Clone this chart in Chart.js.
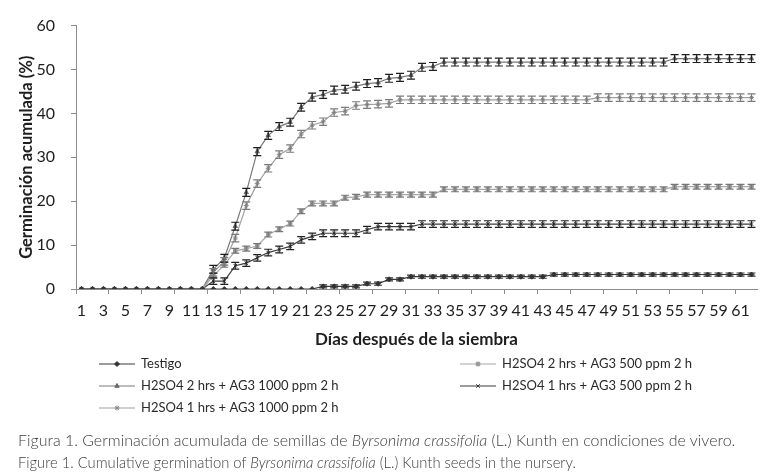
<!DOCTYPE html>
<html>
<head>
<meta charset="utf-8">
<script src="https://cdn.jsdelivr.net/npm/chart.js@4.4.1/dist/chart.umd.min.js"></script>
<style>
  body { margin: 0; background: #fff; }
  #wrap { position: relative; width: 769px; height: 476px; }
  #chart { position: absolute; left: 0; top: 0; }
  .cap { position: absolute; left: 18px; font-family: Lato, sans-serif; font-weight: 300;
         color: #3c3c3c; font-size: 15.8px; white-space: nowrap; transform-origin: left center; }
</style>
</head>
<body>
<div id="wrap">
  <canvas id="chart" width="769" height="476"></canvas>
  <div class="cap" style="top:430px;transform:scaleX(1.01)">Figura 1. Germinación acumulada de semillas de <i>Byrsonima crassifolia</i> (L.) Kunth en condiciones de vivero.</div>
  <div class="cap" style="top:452px;transform:scaleX(0.935)">Figure 1. Cumulative germination of <i>Byrsonima crassifolia</i> (L.) Kunth seeds in the nursery.</div>
</div>
<script>
// days after sowing
const days = [1,2,3,4,5,6,7,8,9,10,11,12,13,14,15,16,17,18,19,20,21,22,23,24,25,26,27,28,29,30,31,
  32,33,34,35,36,37,38,39,40,41,42,43,44,45,46,47,48,49,50,51,52,53,54,55,56,57,58,59,60,61,62];

const names = ['Testigo', 'H2SO4 2 hrs + AG3 500 ppm 2 h', 'H2SO4 2 hrs + AG3 1000 ppm 2 h',
  'H2SO4 1 hrs + AG3 500 ppm 2 h', 'H2SO4 1 hrs + AG3 1000 ppm 2 h'];

// cumulative germination (%)
const testigo = [0,0,0,0,0,0,0,0,0,0,0,0,0,0,0,0,0,0,0,0,0,0,
  0.6,0.6,0.6,0.6,1.2,1.2,2.2,2.2,
  2.8,2.8,2.8,2.8,2.8,2.8,2.8,2.8,2.8,2.8,2.8,2.8,2.8,
  3.3,3.3,3.3,3.3,3.3,3.3,3.3,3.3,3.3,3.3,3.3,3.3,3.3,3.3,3.3,3.3,3.3,3.3,3.3];
const h2s500 = [0,0,0,0,0,0,0,0,0,0,0,0,
  3,5.5,8.7,9.2,9.8,12.4,13.6,14.9,17.7,19.5,19.5,19.5,20.8,21,
  21.5,21.5,21.5,21.5,21.5,21.5,21.5,
  22.7,22.7,22.7,22.7,22.7,22.7,22.7,22.7,22.7,22.7,22.7,22.7,22.7,22.7,22.7,22.7,22.7,22.7,22.7,22.7,22.7,
  23.3,23.3,23.3,23.3,23.3,23.3,23.3,23.3];
const h2s1000 = [0,0,0,0,0,0,0,0,0,0,0,0,
  4.5,7,14.3,22,31.3,35,37,38,41.4,43.7,44.3,45.3,45.5,46.2,46.8,47,48,48.2,48.7,50.5,50.7,
  51.7,51.7,51.7,51.7,51.7,51.7,51.7,51.7,51.7,51.7,51.7,51.7,51.7,51.7,51.7,51.7,51.7,51.7,51.7,51.7,51.7,
  52.5,52.5,52.5,52.5,52.5,52.5,52.5,52.5];
const h1s500 = [0,0,0,0,0,0,0,0,0,0,0,0,
  1.8,1.8,5.3,5.9,7.1,8.3,9,9.7,11.2,12,
  12.7,12.7,12.7,12.7,13.5,14.2,14.2,14.2,14.2,
  14.8,14.8,14.8,14.8,14.8,14.8,14.8,14.8,14.8,14.8,14.8,14.8,14.8,14.8,14.8,14.8,
  14.8,14.8,14.8,14.8,14.8,14.8,14.8,14.8,14.8,14.8,14.8,14.8,14.8,14.8,14.8];
const h1s1000 = [0,0,0,0,0,0,0,0,0,0,0,0,
  3.8,6.3,11.6,19,24,27.5,30.6,32,35.3,37.3,38.1,40.2,40.5,41.8,42,42.1,42.3,
  43.1,43.1,43.1,43.1,43.1,43.1,43.1,43.1,43.1,43.1,43.1,43.1,43.1,43.1,43.1,43.1,43.1,43.1,
  43.6,43.6,43.6,43.6,43.6,43.6,43.6,43.6,43.6,43.6,43.6,43.6,43.6,43.6,43.6];
// half length of the error bars (%)
const errHalf = [0.35, 0.55, 0.9, 0.75, 0.85];

const seriesList = [testigo, h2s500, h2s1000, h1s500, h1s1000];
const lineColors = ['#3a3a3a', '#a8a8a8', '#7a7a7a', '#3a3a3a', '#a0a0a0'];
const markColors = ['#333333', '#999999', '#666666', '#333333', '#8a8a8a'];
const barColors = ['#333333', '#777777', '#1e1e1e', '#222222', '#7a7a7a'];
const pointStyles = ['rectRot', 'rect', 'triangle', 'crossRot', 'star'];

const errorBars = {
  id: 'errorBars',
  afterDatasetsDraw(chart) {
    const ctx = chart.ctx, y = chart.scales.y;
    chart.data.datasets.forEach((ds, i) => {
      const meta = chart.getDatasetMeta(i);
      ctx.save();
      ctx.strokeStyle = barColors[i];
      ctx.lineWidth = 1.2;
      meta.data.forEach((pt, j) => {
        const v = ds.data[j];
        if (!v) return;
        const top = y.getPixelForValue(v + errHalf[i]);
        const bot = y.getPixelForValue(v - errHalf[i]);
        ctx.beginPath();
        ctx.moveTo(pt.x, top); ctx.lineTo(pt.x, bot);
        ctx.moveTo(pt.x - 4, top); ctx.lineTo(pt.x + 4, top);
        ctx.moveTo(pt.x - 4, bot); ctx.lineTo(pt.x + 4, bot);
        ctx.stroke();
      });
      ctx.restore();
    });
  }
};

// two column legend under the axis title
const legendSpots = [[99, 364], [460, 364], [99, 386], [460, 386], [99, 408]];
const bottomLegend = {
  id: 'bottomLegend',
  afterDraw(chart) {
    const ctx = chart.ctx;
    names.forEach((n, i) => {
      const [x, y] = legendSpots[i];
      ctx.save();
      ctx.strokeStyle = lineColors[i];
      ctx.lineWidth = 1.2;
      ctx.beginPath(); ctx.moveTo(x, y); ctx.lineTo(x + 36, y); ctx.stroke();
      ctx.fillStyle = markColors[i];
      ctx.strokeStyle = markColors[i];
      ctx.lineWidth = 1;
      Chart.helpers.drawPoint(ctx, {pointStyle: pointStyles[i], radius: 2.5, rotation: 0, borderWidth: 1}, x + 18, y);
      ctx.fillStyle = '#2a2a2a';
      ctx.font = '13px Lato, sans-serif';
      ctx.textBaseline = 'middle';
      ctx.fillText(n, x + 42, y);
      ctx.restore();
    });
  }
};

new Chart(document.getElementById('chart'), {
  type: 'line',
  data: {
    labels: days,
    datasets: names.map((n, i) => ({
      label: n,
      data: seriesList[i],
      borderColor: lineColors[i],
      backgroundColor: markColors[i],
      pointBorderColor: markColors[i],
      pointStyle: pointStyles[i],
      pointRadius: 2.5,
      pointBorderWidth: 1,
      borderWidth: 1.2,
      tension: 0
    }))
  },
  options: {
    responsive: false,
    animation: false,
    layout: { padding: { left: 0, right: 12, top: 19, bottom: 126 } },
    plugins: { legend: { display: false }, tooltip: { enabled: false } },
    scales: {
      x: {
        offset: true,
        grid: {
          drawOnChartArea: false, offset: true, tickLength: 5,
          color: c => (c.index % 3 === 0 ? '#8c8c8c' : 'rgba(0,0,0,0)')
        },
        border: { color: '#8c8c8c' },
        ticks: {
          autoSkip: false, maxRotation: 0, padding: 7, color: '#1e1e1e',
          font: { family: 'Lato', size: 16 },
          callback: (v, i) => (i % 2 === 0 ? days[i] : '')
        },
        title: {
          display: true, text: 'Días después de la siembra', color: '#1e1e1e',
          font: { family: 'Lato', size: 17, weight: 'bold' }, padding: { top: 0, bottom: 0 }
        },
        afterFit: s => { s.height = 61; }
      },
      y: {
        min: 0, max: 60,
        grid: { drawOnChartArea: false, tickLength: 5, color: '#8c8c8c' },
        border: { color: '#8c8c8c' },
        ticks: { stepSize: 10, padding: 16, color: '#1e1e1e', font: { family: 'Lato', size: 16 } },
        title: {
          display: true, text: 'Germinación acumulada (%)', color: '#1e1e1e',
          font: { family: 'Lato', size: 16.5, weight: 'bold' }, padding: { top: 17, bottom: 0 }
        },
        afterFit: s => { s.width = 76; }
      }
    }
  },
  plugins: [errorBars, bottomLegend]
});
</script>
</body>
</html>
